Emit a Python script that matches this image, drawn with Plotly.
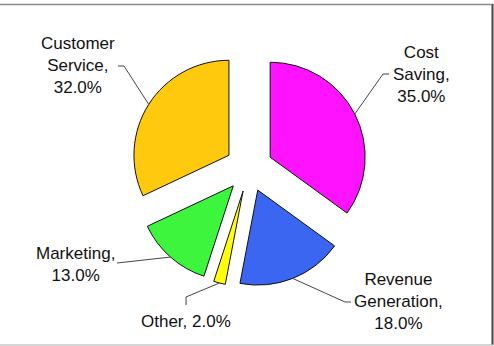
import math
import plotly.graph_objects as go

W, H = 494, 346

labels = ["Cost Saving", "Revenue Generation", "Other", "Marketing", "Customer Service"]
values = [35.0, 18.0, 2.0, 13.0, 32.0]
colors = ["#FF13FF", "#3A66F2", "#FFFF0A", "#3DF53D", "#FFC90E"]
label_text = ["Cost<br>Saving,<br>35.0%", "Revenue<br>Generation,<br>18.0%",
              "Other, 2.0%", "Marketing,<br>13.0%", "Customer<br>Service,<br>32.0%"]
# label centers (pixels)
label_pos = [(421, 75), (398, 301), (186, 321), (75, 264), (78, 65)]
# leader line elbow points (pixels), from the slice towards the text
leader_pts = [[(383, 74), (389, 74)], [(345, 302), (351, 302)], [(186, 297), (186, 305)],
              [(117, 263)], [(124, 66), (118, 66)]]

PULL = 0.25
CX, CY, R = 249.0, 168.0, 95.0
half = R * (1 + PULL)
dom_x = [(CX - half) / W, (CX + half) / W]
dom_y = [(H - CY - half) / H, (H - CY + half) / H]

fig = go.Figure(go.Pie(
    labels=labels, values=values, sort=False, direction="clockwise", rotation=0,
    pull=[PULL] * len(values),
    marker=dict(colors=colors, line=dict(color="#111111", width=1)),
    textinfo="none", hoverinfo="label+percent", showlegend=False,
    domain=dict(x=dom_x, y=dom_y),
))

def px2paper(x, y):
    return x / W, 1 - y / H

shapes = []
total = sum(values)
cum = 0.0
for i, v in enumerate(values):
    mid = (cum + v / 2) / total * 2 * math.pi
    cum += v
    dx, dy = math.sin(mid), -math.cos(mid)
    ax_, ay_ = CX + half * dx, CY + half * dy
    pts = [(ax_, ay_)] + leader_pts[i]
    path = ""
    for j, (x, y) in enumerate(pts):
        px, py = px2paper(x, y)
        path += ("M" if j == 0 else "L") + f"{px:.5f},{py:.5f} "
    shapes.append(dict(type="path", xref="paper", yref="paper", path=path.strip(),
                       line=dict(color="#444444", width=1)))

# frame lines
shapes.append(dict(type="line", xref="paper", yref="paper", x0=0, x1=1,
                   y0=1 - 4.5 / H, y1=1 - 4.5 / H, line=dict(color="#8a8a8a", width=1.5)))
shapes.append(dict(type="line", xref="paper", yref="paper", x0=492.5 / W, x1=492.5 / W,
                   y0=1 - 345 / H, y1=1 - 4.5 / H, line=dict(color="#444444", width=2)))
shapes.append(dict(type="line", xref="paper", yref="paper", x0=0, x1=492.5 / W,
                   y0=1 - 345 / H, y1=1 - 345 / H, line=dict(color="#c8c8c8", width=1.5)))

annotations = []
for t, (x, y) in zip(label_text, label_pos):
    px, py = px2paper(x, y)
    annotations.append(dict(x=px, y=py, xref="paper", yref="paper", text=t,
                            showarrow=False, xanchor="center", yanchor="middle",
                            align="center", font=dict(size=17, color="#111111",
                                                      family="Liberation Sans, Arial, sans-serif")))

fig.update_layout(width=W, height=H, margin=dict(l=0, r=0, t=0, b=0),
                  paper_bgcolor="white", plot_bgcolor="white",
                  shapes=shapes, annotations=annotations)

fig.write_html("out.html")
